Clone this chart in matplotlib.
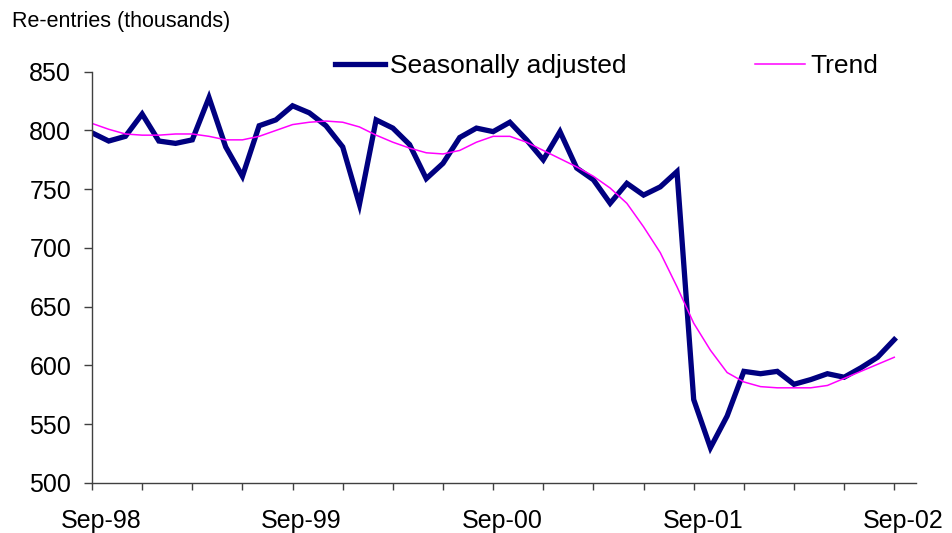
import matplotlib
matplotlib.use("Agg")
import matplotlib.pyplot as plt
import matplotlib.transforms as mtransforms
import numpy as np

plt.rcParams['font.family'] = ['Liberation Sans', 'DejaVu Sans']

# Monthly data, Sep-98 .. Sep-02 (thousands)
seasonally_adjusted = [798, 791, 795, 814, 791, 789, 792, 828, 786, 761,
                       804, 809, 821, 815, 804, 786, 737, 809, 802, 788,
                       759, 772, 794, 802, 799, 807, 792, 775, 799, 768,
                       758, 738, 755, 745, 752, 765, 571, 530, 557, 595,
                       593, 595, 584, 588, 593, 590, 598, 607, 622]
trend = [806, 801, 797, 796, 796, 797, 797, 795, 792, 792,
         795, 800, 805, 807, 808, 807, 803, 796, 790, 785,
         781, 780, 783, 790, 795, 795, 790, 783, 776, 769,
         761, 751, 738, 718, 696, 667, 636, 613, 594, 586,
         582, 581, 581, 581, 583, 589, 595, 601, 607]
year_labels = ['Sep-98', 'Sep-99', 'Sep-00', 'Sep-01', 'Sep-02']
y_ticks = [500, 550, 600, 650, 700, 750, 800, 850]

x = np.arange(len(seasonally_adjusted))

fig = plt.figure(figsize=(9.53, 5.33), dpi=100)
ax = fig.add_axes([92/953, 1-483/533, (916-92)/953, (483-71.7)/533])

l1, = ax.plot(x, seasonally_adjusted, color='#000080', lw=3.8,
              solid_joinstyle='miter', label='Seasonally adjusted')
l2, = ax.plot(x, trend, color='#FF00FF', lw=1.1, label='Trend')

ax.set_xlim(0, 49.3)
ax.set_ylim(500, 850)
ax.set_yticks(y_ticks)
ax.set_yticklabels([str(v) for v in y_ticks])

xt = np.arange(0, 49, 3)
ax.set_xticks(xt)
labels = []
for t in xt:
    labels.append(year_labels[t // 12] if t % 12 == 0 else '')
ax.set_xticklabels(labels)

for s in ['top', 'right']:
    ax.spines[s].set_visible(False)
for s in ['left', 'bottom']:
    ax.spines[s].set_color('#404040')
    ax.spines[s].set_linewidth(1.0)

ax.tick_params(axis='y', direction='out', length=6, width=1, color='#404040',
               labelsize=18, pad=9)
ax.tick_params(axis='x', direction='out', length=5, width=1, color='#404040',
               labelsize=18, pad=14)

offset = mtransforms.ScaledTranslation(9/100, 0, fig.dpi_scale_trans)
for lab in ax.get_xticklabels():
    lab.set_transform(lab.get_transform() + offset)

fig.text(12/953, 1-21/533, 'Re-entries (thousands)', ha='left', va='center',
         fontsize=15.5)

fig.legend(handles=[l1, l2], loc='center left',
           bbox_to_anchor=(335/953, 1-66/533), ncol=2, frameon=False,
           fontsize=19, handlelength=1.9, handletextpad=0.2,
           columnspacing=4.85, borderpad=0, borderaxespad=0)

fig.savefig('out.png', dpi=100)
